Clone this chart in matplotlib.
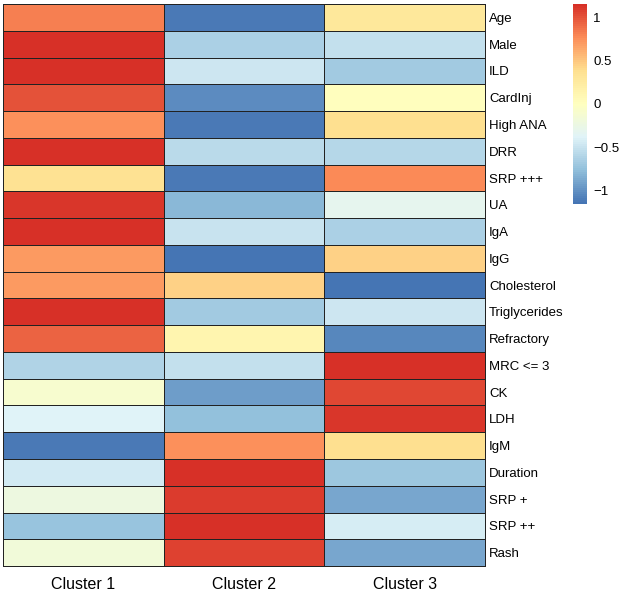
import numpy as np
import matplotlib
matplotlib.use("Agg")
import matplotlib.pyplot as plt
from matplotlib.colors import LinearSegmentedColormap

plt.rcParams['font.family'] = ['Liberation Sans', 'DejaVu Sans']

# row-scaled values per feature (Cluster 1, Cluster 2, Cluster 3)
features = ["Age", "Male", "ILD", "CardInj", "High ANA", "DRR", "SRP +++",
            "UA", "IgA", "IgG", "Cholesterol", "Triglycerides", "Refractory",
            "MRC <= 3", "CK", "LDH", "IgM", "Duration", "SRP +", "SRP ++", "Rash"]
clusters = ["Cluster 1", "Cluster 2", "Cluster 3"]

cluster1 = [0.83, 1.15, 1.15, 1.00, 0.75, 1.15, 0.35, 1.12, 1.14, 0.70, 0.70,
            1.15, 0.93, -0.62, -0.11, -0.38, -1.13, -0.45, -0.21, -0.72, -0.18]
cluster2 = [-1.11, -0.64, -0.47, -1.02, -1.13, -0.56, -1.12, -0.80, -0.50, -1.14, 0.45,
            -0.68, 0.12, -0.52, -0.94, -0.75, 0.75, 1.15, 1.09, 1.14, 1.08]
cluster3 = [0.28, -0.51, -0.68, 0.02, 0.38, -0.59, 0.77, -0.32, -0.64, 0.45, -1.15,
            -0.47, -1.05, 1.14, 1.05, 1.13, 0.38, -0.70, -0.88, -0.42, -0.90]

pal = ["#4575B4", "#91BFDB", "#E0F3F8", "#FFFFBF", "#FEE090", "#FC8D59", "#D73027"]
cmap = LinearSegmentedColormap.from_list("rdylbu", pal, N=100)

data = np.array([cluster1, cluster2, cluster3]).T
lim = 1.155

fig = plt.figure(figsize=(6.22, 5.94), dpi=100)
ax = fig.add_axes([0.0048, 0.0471, 0.775, 0.946])
mesh = ax.pcolormesh(data, cmap=cmap, vmin=-lim, vmax=lim,
                     edgecolors="#222222", linewidth=0.7)
mesh.set_clip_on(False)
ax.set_xlim(0, 3)
ax.set_ylim(len(features), 0)
ax.set_xticks(np.arange(3) + 0.5)
ax.set_xticklabels(clusters, fontsize=11.5)
ax.yaxis.tick_right()
ax.set_yticks(np.arange(len(features)) + 0.5)
ax.set_yticklabels(features, fontsize=9.5)
ax.tick_params(length=0, pad=3)
ax.tick_params(axis="x", pad=8)
for s in ax.spines.values():
    s.set_visible(False)

cax = fig.add_axes([0.921, 0.6566, 0.0225, 0.3367])
cb = fig.colorbar(mesh, cax=cax, ticks=[-1, -0.5, 0, 0.5, 1])
cb.ax.set_yticklabels(["\u22121", "\u22120.5", "0", "0.5", "1"])
cb.outline.set_visible(False)
cb.ax.tick_params(length=0, labelsize=9.5, pad=4.5)

fig.savefig("out.png", dpi=100)
